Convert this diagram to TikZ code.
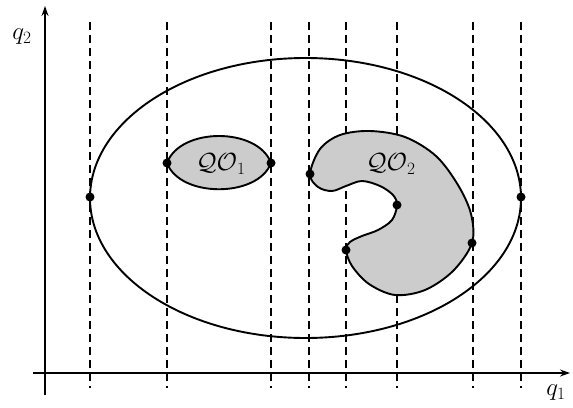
\documentclass[tikz,border=0pt]{standalone}
\usetikzlibrary{arrows.meta}
\begin{document}
\begin{tikzpicture}[x=1pt,y=-1pt,
  axis/.style={line width=1.3pt,-{Stealth[length=10pt,width=7pt]}},
  guide/.style={line width=1.1pt,dash pattern=on 8pt off 5pt},
  outline/.style={line width=1.9pt},
  region/.style={line width=1.9pt,fill=black!20},
  dot/.style={circle,fill=black,inner sep=0pt,minimum size=9pt},
  lbl/.style={font=\fontsize{24}{28}\selectfont,inner sep=0pt}]
\useasboundingbox (0,0) rectangle (573,407);
% axes
\coordinate (xs) at (33,373);
\coordinate (xe) at (570,373);
\coordinate (ys) at (45,395);
\coordinate (ye) at (45,6);
\draw[axis] (xs) -- (xe);
\draw[axis] (ys) -- (ye);
\node[lbl] (q1) at (556,393) {$q_1$};
\node[lbl] (q2) at (22,37) {$q_2$};
% guides
\foreach \i/\x in {a/90,b/167,c/271,d/309,e/346,f/397,g/473,h/521}{
  \coordinate (t\i) at (\x,22);
  \coordinate (b\i) at (\x,388);
  \draw[guide] (t\i) -- (b\i);
}
% big ellipse
\draw[outline] (305.5,198) ellipse [x radius=215.5, y radius=140];
% QO1
\draw[region] (167,163) .. controls (180,127) and (258,127) .. (271,163)
  .. controls (258,198) and (180,198) .. (167,163) -- cycle;
\node[lbl] (l1) at (221,164) {$\mathcal{QO}_1$};
% QO2
\draw[region] plot[smooth cycle,tension=0.55] coordinates {
 (310,174) (318,187) (332,191) (346,186) (362,181) (380,186) (393,195)
 (397,205) (392,220) (378,230) (362,236) (350,242)
 (346,250) (352,266) (369,284) (395,295) (425,290) (453,271)
 (472,243) (471,214) (458,185) (436,156) (405,137) (370,131) (340,135) (320,149)};
\node[lbl] (l2) at (391,164) {$\mathcal{QO}_2$};
% dots
\node[dot] (pa) at (90,197) {};
\node[dot] (ph) at (521,197) {};
\node[dot] (p1) at (167,163) {};
\node[dot] (p2) at (271,163) {};
\node[dot] (p3) at (310,174) {};
\node[dot] (p4) at (397,205) {};
\node[dot] (p5) at (346,250) {};
\node[dot] (p6) at (472,243) {};
\end{tikzpicture}
\end{document}
